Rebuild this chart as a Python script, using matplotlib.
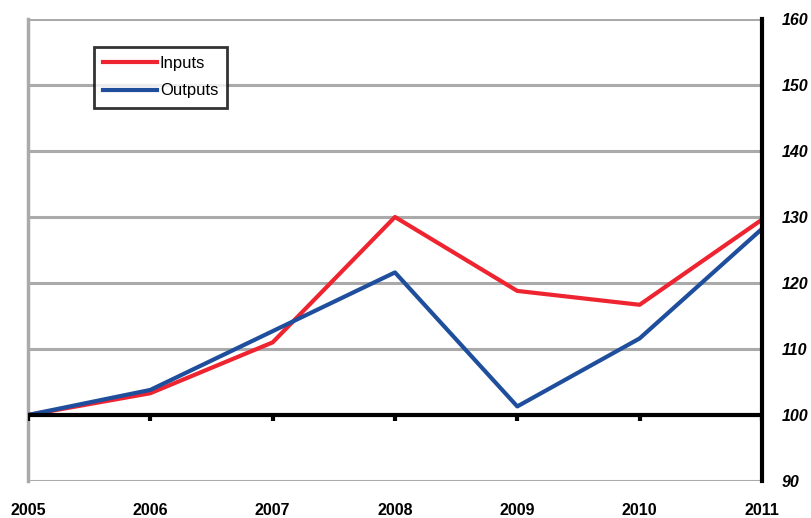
import matplotlib.pyplot as plt

plt.rcParams['font.family'] = ['Liberation Sans', 'DejaVu Sans']

years = [2005, 2006, 2007, 2008, 2009, 2010, 2011]
inputs = [100, 103.3, 111.0, 130.0, 118.8, 116.7, 129.6]
outputs = [100, 103.8, 112.7, 121.6, 101.3, 111.6, 128.2]
yticks = [90, 100, 110, 120, 130, 140, 150, 160]

fig = plt.figure(figsize=(8.11, 5.18), dpi=100)
ax = fig.add_axes([0.0345, 0.0714, 0.905, 0.892])

# grid
for v in yticks:
    ax.axhline(v, color='#aaaaaa', lw=2.2, zorder=1)

ax.plot(years, inputs, color='#ee2430', lw=3, label='Inputs', zorder=3)
ax.plot(years, outputs, color='#1f4e9c', lw=3, label='Outputs', zorder=4)

# x axis at 100 with ticks
ax.axhline(100, color='black', lw=3, zorder=5)
ax.vlines(years, 99.1, 100, color='black', lw=3, zorder=5)

ax.set_xlim(years[0], years[-1])
ax.set_ylim(90, 160)

for s in ['top', 'bottom']:
    ax.spines[s].set_visible(False)
ax.spines['left'].set_color('#aaaaaa')
ax.spines['left'].set_linewidth(2.5)
ax.spines['right'].set_color('black')
ax.spines['right'].set_linewidth(3)
ax.spines['right'].set_zorder(6)

ax.yaxis.tick_right()
ax.set_yticks(yticks)
ax.set_yticklabels([str(v) for v in yticks], fontsize=11.5, fontweight='bold', style='italic')
ax.tick_params(axis='y', length=0, pad=14)
ax.set_xticks(years)
ax.set_xticklabels([str(y) for y in years], fontsize=11.5, fontweight='bold')
ax.tick_params(axis='x', length=0, pad=16)

leg = ax.legend(loc='upper left', bbox_to_anchor=(0.09, 0.94), fontsize=12,
                frameon=True, fancybox=False, handlelength=3.2,
                handletextpad=0.2, borderpad=0.55, borderaxespad=0,
                labelspacing=0.75)
leg.get_frame().set_edgecolor('black')
leg.get_frame().set_linewidth(2)
leg.set_zorder(10)

fig.savefig('out.png', dpi=100)
